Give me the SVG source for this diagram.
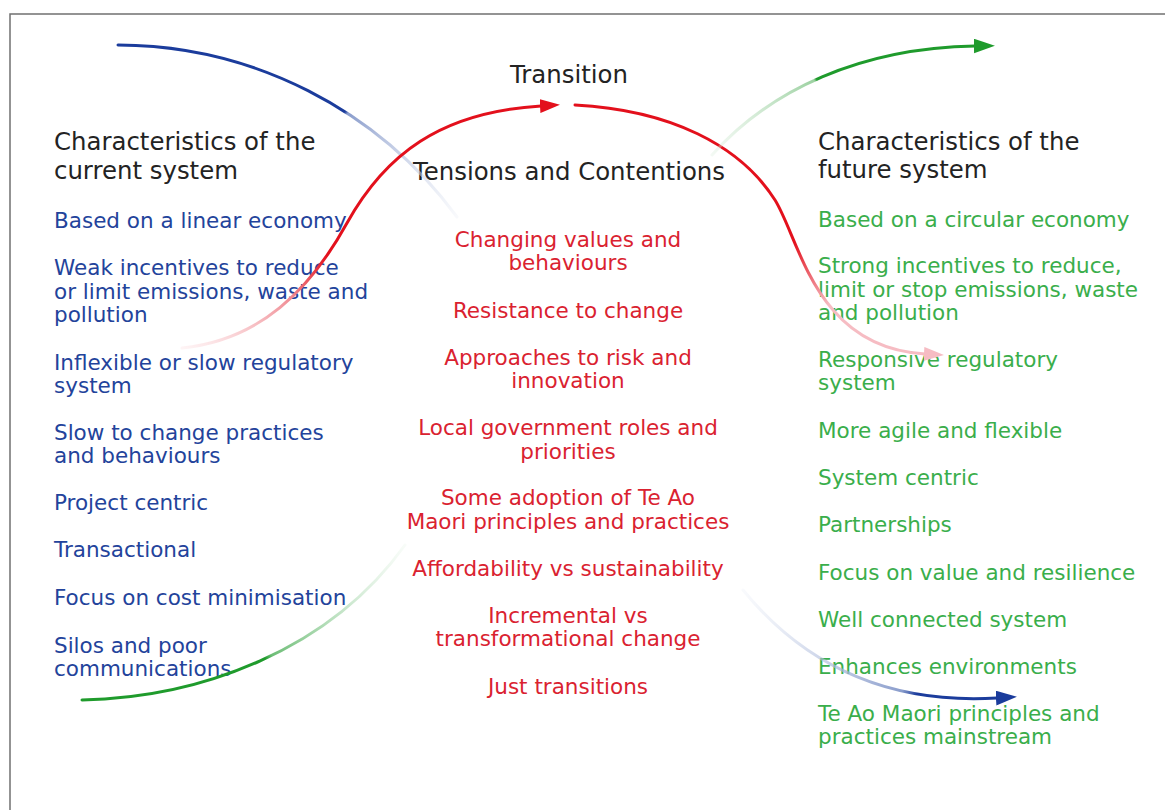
<svg xmlns="http://www.w3.org/2000/svg" width="1165" height="810" viewBox="0 0 1165 810">
<style>
text{font-family:"DejaVu Sans","Liberation Sans",sans-serif}
.hd{font-size:24.4px;fill:#232323}
.it{font-size:21.5px}
.cur{fill:#23439b}
.ten{fill:#da2230;text-anchor:middle}
.fut{fill:#3aae4b}
.ln{fill:none;stroke-width:3;stroke-linecap:round}
</style>
<defs>
<marker id="ah-red" viewBox="0 0 20 14" refX="1" refY="7" markerWidth="20" markerHeight="14" markerUnits="userSpaceOnUse" orient="auto"><path d="M0,0 L20,7 L0,14 Z" fill="#e3101c"/></marker>
<marker id="ah-pink" viewBox="0 0 20 14" refX="1" refY="7" markerWidth="20" markerHeight="14" markerUnits="userSpaceOnUse" orient="auto"><path d="M0,0 L20,7 L0,14 Z" fill="#f6bcc3"/></marker>
<marker id="ah-green" viewBox="0 0 20 14" refX="1" refY="7" markerWidth="21" markerHeight="15" markerUnits="userSpaceOnUse" orient="auto"><path d="M0,0 L20,7 L0,14 Z" fill="#1f9b2c"/></marker>
<marker id="ah-blue" viewBox="0 0 20 14" refX="1" refY="7" markerWidth="21" markerHeight="15" markerUnits="userSpaceOnUse" orient="auto"><path d="M0,0 L20,7 L0,14 Z" fill="#1b3c9c"/></marker>
<linearGradient id="gBlueTop" gradientUnits="userSpaceOnUse" x1="345" y1="100" x2="460" y2="220"><stop offset="0" stop-color="#1b3c9c"/><stop offset="0.05" stop-color="#1b3c9c"/><stop offset="0.07" stop-color="#8a9dcc"/><stop offset="0.5" stop-color="#bcc7e2" stop-opacity="0.7"/><stop offset="1" stop-color="#e2e7f2" stop-opacity="0.2"/></linearGradient>
<linearGradient id="gRedL" gradientUnits="userSpaceOnUse" x1="350" y1="215" x2="182" y2="348"><stop offset="0" stop-color="#e3101c"/><stop offset="0.2" stop-color="#e3101c"/><stop offset="0.45" stop-color="#f08a92"/><stop offset="1" stop-color="#fde9eb" stop-opacity="0.5"/></linearGradient>
<linearGradient id="gRedR" gradientUnits="userSpaceOnUse" x1="798" y1="240" x2="830" y2="305"><stop offset="0" stop-color="#e3101c"/><stop offset="1" stop-color="#f6bcc3"/></linearGradient>
<linearGradient id="gGreenTop" gradientUnits="userSpaceOnUse" x1="712" y1="155" x2="820" y2="77"><stop offset="0" stop-color="#d6ecd8" stop-opacity="0.3"/><stop offset="0.95" stop-color="#9cd1a1"/><stop offset="0.97" stop-color="#1f9b2c"/><stop offset="1" stop-color="#1f9b2c"/></linearGradient>
<linearGradient id="gGreenBL" gradientUnits="userSpaceOnUse" x1="268" y1="662" x2="405" y2="545"><stop offset="0" stop-color="#1f9b2c"/><stop offset="0.04" stop-color="#6dbd76"/><stop offset="1" stop-color="#e8f5e9" stop-opacity="0.3"/></linearGradient>
<linearGradient id="gBlueBR" gradientUnits="userSpaceOnUse" x1="743" y1="590" x2="915" y2="697"><stop offset="0" stop-color="#e0e6f3" stop-opacity="0.2"/><stop offset="0.93" stop-color="#8a9dcc"/><stop offset="1" stop-color="#1b3c9c"/></linearGradient>
</defs>
<rect width="1165" height="810" fill="#ffffff"/>
<rect x="10" y="14" width="1180" height="830" fill="none" stroke="#707070" stroke-width="1.5"/>

<g id="header-current">
<text class="hd" x="54" y="150">Characteristics of the</text>
<text class="hd" x="54" y="179">current system</text>
</g>
<g id="header-transition"><text class="hd" x="569" y="83" text-anchor="middle">Transition</text></g>
<g id="header-tensions"><text class="hd" x="569" y="180" text-anchor="middle">Tensions and Contentions</text></g>
<g id="header-future">
<text class="hd" x="818" y="150">Characteristics of the</text>
<text class="hd" x="818" y="178">future system</text>
</g>

<g id="cur-1"><text class="it cur" x="54" y="228">Based on a linear economy</text></g>
<g id="cur-2"><text class="it cur" x="54" y="275">Weak incentives to reduce</text><text class="it cur" x="54" y="299">or limit emissions, waste and</text><text class="it cur" x="54" y="322">pollution</text></g>
<g id="cur-3"><text class="it cur" x="54" y="370">Inflexible or slow regulatory</text><text class="it cur" x="54" y="393">system</text></g>
<g id="cur-4"><text class="it cur" x="54" y="440">Slow to change practices</text><text class="it cur" x="54" y="463">and behaviours</text></g>
<g id="cur-5"><text class="it cur" x="54" y="510">Project centric</text></g>
<g id="cur-6"><text class="it cur" x="54" y="557">Transactional</text></g>
<g id="cur-7"><text class="it cur" x="54" y="605">Focus on cost minimisation</text></g>
<g id="cur-8"><text class="it cur" x="54" y="653">Silos and poor</text><text class="it cur" x="54" y="676">communications</text></g>

<g id="ten-1"><text class="it ten" x="568" y="247">Changing values and</text><text class="it ten" x="568" y="270">behaviours</text></g>
<g id="ten-2"><text class="it ten" x="568" y="318">Resistance to change</text></g>
<g id="ten-3"><text class="it ten" x="568" y="365">Approaches to risk and</text><text class="it ten" x="568" y="388">innovation</text></g>
<g id="ten-4"><text class="it ten" x="568" y="435">Local government roles and</text><text class="it ten" x="568" y="459">priorities</text></g>
<g id="ten-5"><text class="it ten" x="568" y="505">Some adoption of Te Ao</text><text class="it ten" x="568" y="529">Maori principles and practices</text></g>
<g id="ten-6"><text class="it ten" x="568" y="576">Affordability vs sustainability</text></g>
<g id="ten-7"><text class="it ten" x="568" y="623">Incremental vs</text><text class="it ten" x="568" y="646">transformational change</text></g>
<g id="ten-8"><text class="it ten" x="568" y="694">Just transitions</text></g>

<g id="fut-1"><text class="it fut" x="818" y="227">Based on a circular economy</text></g>
<g id="fut-2"><text class="it fut" x="818" y="273">Strong incentives to reduce,</text><text class="it fut" x="818" y="297">limit or stop emissions, waste</text><text class="it fut" x="818" y="320">and pollution</text></g>
<g id="fut-3"><text class="it fut" x="818" y="367">Responsive regulatory</text><text class="it fut" x="818" y="390">system</text></g>
<g id="fut-4"><text class="it fut" x="818" y="438">More agile and flexible</text></g>
<g id="fut-5"><text class="it fut" x="818" y="485">System centric</text></g>
<g id="fut-6"><text class="it fut" x="818" y="532">Partnerships</text></g>
<g id="fut-7"><text class="it fut" x="818" y="580">Focus on value and resilience</text></g>
<g id="fut-8"><text class="it fut" x="818" y="627">Well connected system</text></g>
<g id="fut-9"><text class="it fut" x="818" y="674">Enhances environments</text></g>
<g id="fut-10"><text class="it fut" x="818" y="721">Te Ao Maori principles and</text><text class="it fut" x="818" y="744">practices mainstream</text></g>

<g id="connectors">
<path class="ln" d="M118,45 A422,422 0 0 1 457,217" stroke="url(#gBlueTop)"/>
<path class="ln" d="M182,348 C260,340 310,290 347,223 C385,155 440,112 541,106" stroke="url(#gRedL)" marker-end="url(#ah-red)"/>
<path class="ln" d="M575,105 C670,110 740,145 775,200 C800,240 815,348 925,354" stroke="url(#gRedR)" marker-end="url(#ah-pink)"/>
<path class="ln" d="M712,155 C770,90 860,48 975,46" stroke="url(#gGreenTop)" marker-end="url(#ah-green)"/>
<path class="ln" d="M82,700 C200,698 330,650 405,545" stroke="url(#gGreenBL)"/>
<path class="ln" d="M743,590 C800,660 880,705 997,698" stroke="url(#gBlueBR)" marker-end="url(#ah-blue)"/>
</g>
</svg>
